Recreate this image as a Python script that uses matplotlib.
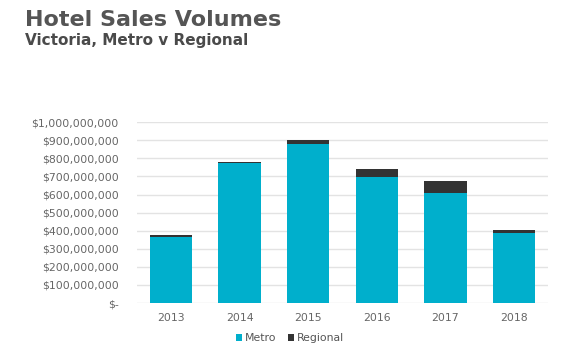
import matplotlib
matplotlib.use("Agg")
import matplotlib.pyplot as plt
from matplotlib.ticker import FuncFormatter

# data
years = ["2013", "2014", "2015", "2016", "2017", "2018"]
metro = [365e6, 776e6, 878e6, 695e6, 610e6, 390e6]
regional = [10e6, 4e6, 26e6, 45e6, 65e6, 12e6]

metro_col = "#00AFCC"
regional_col = "#333333"

fig = plt.figure(figsize=(5.8, 3.52), dpi=100)
ax = fig.add_axes([0.236, 0.139, 0.709, 0.514])

x = range(len(years))
ax.bar(x, metro, width=0.62, color=metro_col, label="Metro", zorder=3)
ax.bar(x, regional, width=0.62, bottom=metro, color=regional_col, label="Regional", zorder=3)

ax.set_xlim(-0.5, 5.5)
ax.set_ylim(0, 1e9)
ax.set_yticks([i * 1e8 for i in range(11)])
ax.yaxis.set_major_formatter(FuncFormatter(lambda v, p: "$-" if v == 0 else f"${v:,.0f}"))
ax.set_xticks(list(x))
ax.set_xticklabels(years)

ax.grid(axis="y", color="#e3e3e3", linewidth=1, zorder=0)
for s in ax.spines.values():
    s.set_visible(False)
ax.tick_params(length=0, labelsize=7.8, colors="#666666")
ax.tick_params(axis="y", pad=13)
ax.tick_params(axis="x", pad=7)
for lbl in ax.get_xticklabels() + ax.get_yticklabels():
    lbl.set_family("DejaVu Sans")

leg = fig.legend(loc="center", bbox_to_anchor=(0.5, 0.04), ncol=2, frameon=False,
                 fontsize=7.8, handlelength=0.6, handleheight=0.6, handletextpad=0.3,
                 columnspacing=1.0)
for t in leg.get_texts():
    t.set_color("#555555")
    t.set_family("DejaVu Sans")

fig.text(0.043, 0.926, "Hotel Sales Volumes", fontsize=16, fontweight="bold",
         color="#555555", family="DejaVu Sans", va="baseline")
fig.text(0.043, 0.871, "Victoria, Metro v Regional", fontsize=11, fontweight="bold",
         color="#4a4a4a", family="DejaVu Sans", va="baseline")

fig.savefig("out.png", dpi=100, facecolor="white")
